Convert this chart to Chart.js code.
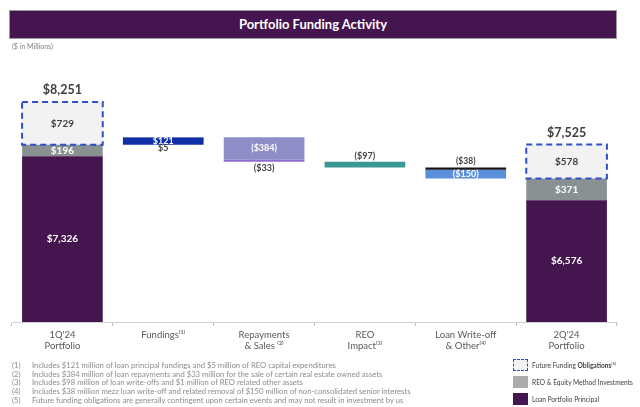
<!DOCTYPE html>
<html>
<head>
<meta charset="utf-8">
<script src="https://cdn.jsdelivr.net/npm/chart.js@4.4.1/dist/chart.umd.min.js"></script>
<style>
  body { margin: 0; background: #fff; font-family: Lato, 'Open Sans', sans-serif; }
  #wrap { position: relative; width: 640px; height: 407px; overflow: hidden; }
  #myChart { position: absolute; left: 0; top: 0; }
  .banner { position: absolute; left: 9px; top: 10px; width: 606px; height: 27px; background: #44154f;
    border: 1px solid #9a9a9a; color: #fff; font-weight: bold; font-size: 13px; text-align: center; line-height: 27px; }
  .units { position: absolute; left: 12px; top: 42px; font-size: 7px; color: #808080; }
  .notes { position: absolute; left: 12px; top: 361px; font-size: 7.7px; color: #8c8c8c; line-height: 8.7px; }
  .notes div span { display: inline-block; width: 20px; }
  .legend { position: absolute; left: 513px; top: 359px; font-size: 6.6px; color: #404040; }
  .legend div { position: relative; height: 17px; }
  .legend i { position: absolute; left: 0; top: 0; width: 15px; height: 12px; box-sizing: border-box; }
  .legend b { font-weight: normal; position: absolute; left: 19px; top: 2px; white-space: nowrap; }
  sup { font-size: 4.5px; }
</style>
</head>
<body>
<div id="wrap">
  <canvas id="myChart" width="640" height="407"></canvas>
  <div class="banner">Portfolio Funding Activity</div>
  <div class="units">($ in Millions)</div>
  <div class="notes">
    <div><span>(1)</span>Includes $121 million of loan principal fundings and $5 million of REO capital expenditures</div>
    <div><span>(2)</span>Includes $384 million of loan repayments and $33 million for the sale of certain real estate owned assets</div>
    <div><span>(3)</span>Includes $98 million of loan write-offs and $1 million of REO related other assets</div>
    <div><span>(4)</span>Includes $38 million mezz loan write-off and related removal of $150 million of non-consolidated senior interests</div>
    <div><span>(5)</span>Future funding obligations are generally contingent upon certain events and may not result in investment by us</div>
  </div>
  <div class="legend">
    <div><i style="background:#f2f2f2;border:1.5px dashed #2f4fc9"></i><b>Future Funding <span style="font-weight:bold">Obligations</span><sup>(5)</sup></b></div>
    <div><i style="background:#ababab"></i><b>REO &amp; Equity Method Investments</b></div>
    <div><i style="background:#44154f"></i><b>Loan Portfolio Principal</b></div>
  </div>
</div>
<script>
var labels = [
	["1Q'24", 'Portfolio'],
	['Fundings\u207D\u00B9\u207E'],
	['Repayments', '& Sales \u207D\u00B2\u207E'],
	['REO', 'Impact\u207D\u00B3\u207E'],
	['Loan Write-off', '& Other\u207D\u2074\u207E'],
	["2Q'24", 'Portfolio']
];
// portfolio columns (1Q'24, 2Q'24)
var loanPrincipal = [7326, 6576];
var reoEquity = [196, 371];
var futureFunding = [729, 578];
// waterfall steps
var fundings = [121, 5];
var repayments = [-384, -33];
var reoImpact = [-97];
var writeOff = [-38, -150];

var yMin = 4500, yMax = 9000;

function money(v) {
	var s = '$' + Math.abs(v).toFixed(0).replace(/(\d)(?=(\d{3})+(?!\d))/g, '$1,');
	return v < 0 ? '(' + s + ')' : s;
}

function slot(idx, val) {
	var arr = [null, null, null, null, null, null];
	arr[idx] = val;
	return arr;
}

// running total for the floating steps
var running = loanPrincipal[0] + reoEquity[0];
function step(idx, v) {
	var from = running;
	running += v;
	return slot(idx, [from, running]);
}

var datasets = [];
function add(label, data, color, lab) {
	datasets.push({ label: label, data: data, backgroundColor: color, borderWidth: 0, lab: lab });
}

add('Loan Portfolio Principal', [[yMin, loanPrincipal[0]], null, null, null, null, [yMin, loanPrincipal[1]]], '#44154f',
	{ pos: 'base', color: '#fff', size: 10, texts: [money(loanPrincipal[0]), money(loanPrincipal[1])] });
add('REO & Equity Method Investments',
	[[loanPrincipal[0], loanPrincipal[0] + reoEquity[0]], null, null, null, null, [loanPrincipal[1], loanPrincipal[1] + reoEquity[1]]],
	'#8a9193', { pos: 'in', color: '#fff', size: 10, texts: [money(reoEquity[0]), money(reoEquity[1])] });
var top1 = loanPrincipal[0] + reoEquity[0], top2 = loanPrincipal[1] + reoEquity[1];
add('Future Funding Obligations',
	[[top1, top1 + futureFunding[0]], null, null, null, null, [top2, top2 + futureFunding[1]]],
	'#f2f2f2', { pos: 'in', color: '#404040', size: 10, texts: [money(futureFunding[0]), money(futureFunding[1])],
		total: [money(top1 + futureFunding[0]), money(top2 + futureFunding[1])] });

add('Fundings loan', step(1, fundings[0]), '#0f2ea8', { pos: 'in', color: '#fff', size: 9, texts: [money(fundings[0])] });
add('Fundings REO', step(1, fundings[1]), '#0f2ea8', { pos: 'below', color: '#404040', size: 9, texts: [money(fundings[1])] });
add('Repayments', step(2, repayments[0]), '#8f8dc8', { pos: 'in', color: '#fff', size: 9, texts: [money(repayments[0])] });
add('Sales', step(2, repayments[1]), '#8a6bcf', { pos: 'below', color: '#404040', size: 9, texts: [money(repayments[1])] });
add('REO Impact', step(3, reoImpact[0]), '#3c9892', { pos: 'above', color: '#404040', size: 9, texts: [money(reoImpact[0])] });
add('Write-off', step(4, writeOff[0]), '#141414', { pos: 'above', color: '#404040', size: 8.5, texts: [money(writeOff[0])] });
add('Senior interests', step(4, writeOff[1]), '#5b8fdc', { pos: 'in', color: '#fff', size: 9, texts: [money(writeOff[1])] });

var barLabels = {
	id: 'barLabels',
	afterDatasetsDraw: function(chart) {
		var c = chart.ctx, area = chart.chartArea;
		c.save();
		// dashed box on future funding
		var ff = chart.data.datasets[2].data;
		chart.getDatasetMeta(2).data.forEach(function(el, j) {
			if (ff[j] == null) return;
			c.setLineDash([6, 4]);
			c.lineWidth = 2;
			c.strokeStyle = '#2f4fc9';
			c.strokeRect(el.x - el.width / 2, el.y, el.width, el.base - el.y);
		});
		c.setLineDash([]);
		c.textAlign = 'center';
		c.textBaseline = 'middle';
		chart.data.datasets.forEach(function(ds, i) {
			var lab = ds.lab, n = 0;
			chart.getDatasetMeta(i).data.forEach(function(el, j) {
				if (ds.data[j] == null) return;
				var text = lab.texts[n], tot = lab.total ? lab.total[n] : null;
				n++;
				var top = el.y, bot = el.base, y;
				if (lab.pos == 'base') y = (top + area.bottom) / 2;
				else if (lab.pos == 'in') y = (top + bot) / 2;
				else if (lab.pos == 'below') y = Math.max(top, bot) + 6;
				else y = Math.min(top, bot) - 6;
				if (ds.label == 'Fundings REO') y = Math.max(top, bot) + 10;
				c.font = 'bold ' + lab.size + 'px Lato';
				c.fillStyle = lab.color;
				c.fillText(text, el.x, y);
				if (tot) {
					c.font = 'bold 12.5px Lato';
					c.fillStyle = '#404040';
					c.fillText(tot, el.x, top - 12);
				}
			});
		});
		c.restore();
	}
};

var ctx = document.getElementById('myChart').getContext('2d');
Chart.defaults.font.family = 'Lato';
var myChart = new Chart(ctx, {
	type: 'bar',
	data: { labels: labels, datasets: datasets },
	options: {
		responsive: false,
		animation: false,
		devicePixelRatio: 1,
		grouped: false,
		barPercentage: 0.8,
		categoryPercentage: 1,
		layout: { padding: { left: 12, right: 23, top: 58, bottom: 0 } },
		plugins: { legend: { display: false }, tooltip: { enabled: false } },
		scales: {
			x: {
				grid: { display: true, drawOnChartArea: false, offset: true, tickLength: 4, color: '#bfbfbf' },
				border: { color: '#d0d0d0' },
				ticks: { color: '#595959', font: { size: 9.5 }, padding: 3, maxRotation: 0, autoSkip: false },
				afterFit: function(s) { s.height = 85; }
			},
			y: { display: false, min: yMin, max: yMax }
		}
	},
	plugins: [barLabels]
});
</script>
</body>
</html>
